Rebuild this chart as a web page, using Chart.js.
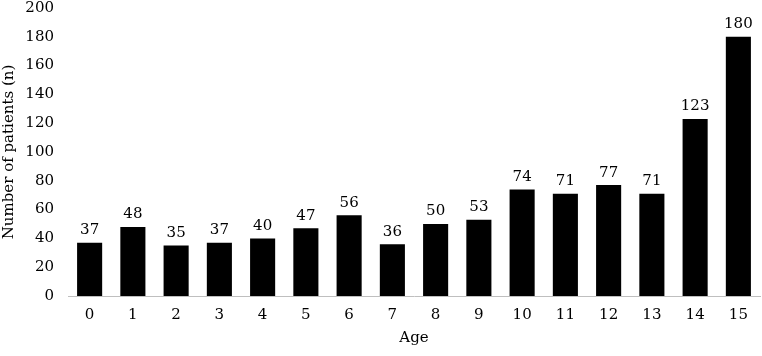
<!DOCTYPE html>
<html>
<head>
<meta charset="utf-8">
<script src="https://cdn.jsdelivr.net/npm/chart.js@4"></script>
<style>
  html, body { margin: 0; padding: 0; background: #fff; }
  #wrap { width: 762px; height: 356px; }
</style>
</head>
<body>
<div id="wrap"><canvas id="Age_Chart"></canvas></div>
<script>
// data
var ages = ['0', '1', '2', '3', '4', '5', '6', '7', '8', '9', '10', '11', '12', '13', '14', '15'];
var patients = [37, 48, 35, 37, 40, 47, 56, 36, 50, 53, 74, 71, 77, 71, 123, 180];
var yTicks = [0, 20, 40, 60, 80, 100, 120, 140, 160, 180, 200];

var FONT = "'DejaVu Serif', serif";

// values above each bar
var valueLabels = {
    id: 'valueLabels',
    afterDatasetsDraw: function(chart) {
        var ctx = chart.ctx;
        var meta = chart.getDatasetMeta(0);
        ctx.save();
        ctx.font = "15px " + FONT;
        ctx.fillStyle = '#000';
        ctx.textAlign = 'center';
        ctx.textBaseline = 'bottom';
        meta.data.forEach(function(bar, i) {
            ctx.fillText(String(patients[i]), bar.x, bar.y - 5);
        });
        ctx.restore();
    }
};

var Age_Chart = null;

function createAgeChart() {
    var canvas = document.getElementById('Age_Chart');
    if (Age_Chart) {
        Age_Chart.destroy();
    }
    Age_Chart = new Chart(canvas, {
        type: 'bar',
        data: {
            labels: ages,
            datasets: [{
                data: patients,
                backgroundColor: '#000000',
                categoryPercentage: 1.0,
                barPercentage: 0.58
            }]
        },
        options: {
            responsive: true,
            maintainAspectRatio: false,
            animation: false,
            layout: {
                padding: { left: 0, right: 2, top: 8, bottom: 9 }
            },
            plugins: {
                legend: { display: false },
                tooltip: { enabled: false }
            },
            scales: {
                x: {
                    grid: { display: false, drawTicks: false },
                    border: { display: true, color: '#bfbfbf', width: 1 },
                    ticks: {
                        color: '#000',
                        padding: 10,
                        maxRotation: 0,
                        font: { family: FONT, size: 15 }
                    },
                    title: {
                        display: true,
                        text: 'Age',
                        color: '#000',
                        padding: { top: 4, bottom: 0 },
                        font: { family: FONT, size: 15 }
                    },
                    afterFit: function(scale) { scale.height = 51; }
                },
                y: {
                    min: 0,
                    max: 200,
                    afterBuildTicks: function(scale) {
                        scale.ticks = yTicks.map(function(v) { return { value: v }; });
                    },
                    grid: { display: false, drawTicks: false },
                    border: { display: false },
                    ticks: {
                        color: '#000',
                        padding: 14,
                        font: { family: FONT, size: 15 }
                    },
                    title: {
                        display: true,
                        text: 'Number of patients (n)',
                        color: '#000',
                        padding: { top: 0, bottom: 0 },
                        font: { family: FONT, size: 15 }
                    },
                    afterFit: function(scale) {
                        scale.width = 68;
                        scale.paddingTop = 0;
                    }
                }
            }
        },
        plugins: [valueLabels]
    });
}

document.addEventListener('DOMContentLoaded', function() {
    createAgeChart();
});
</script>
</body>
</html>
